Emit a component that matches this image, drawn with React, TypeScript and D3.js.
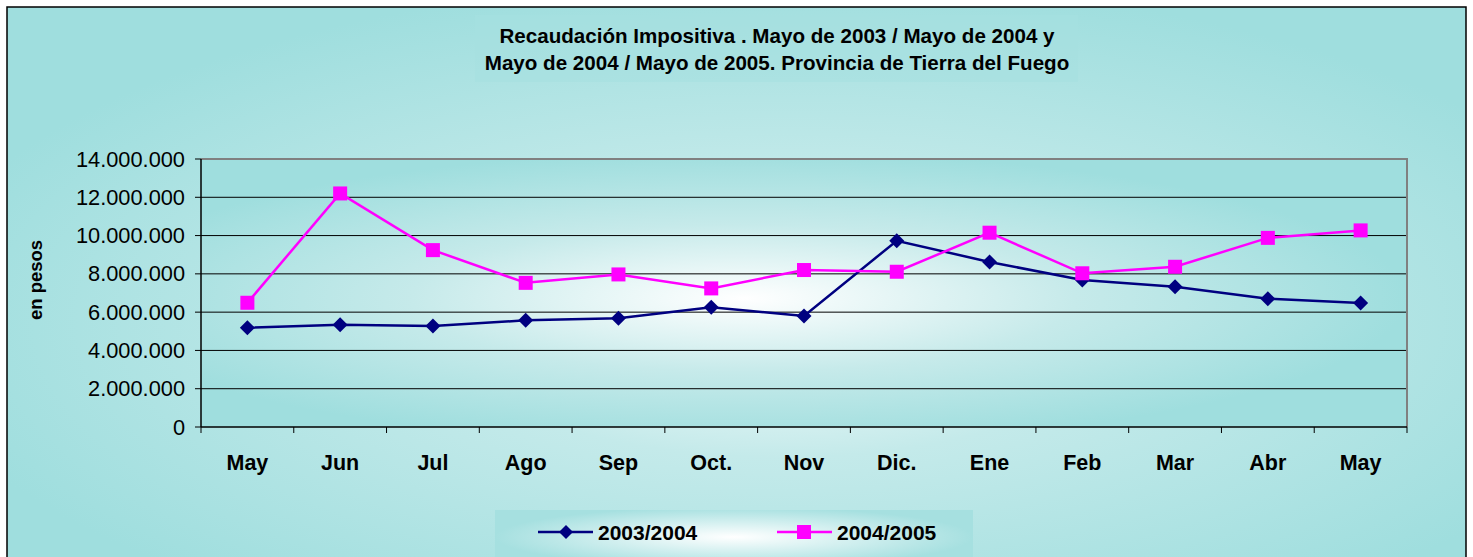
import React from "react";
import * as d3 from "d3";

const categories = ["May", "Jun", "Jul", "Ago", "Sep", "Oct.", "Nov", "Dic.", "Ene", "Feb", "Mar", "Abr", "May"];
const series2003 = [5180000, 5340000, 5270000, 5570000, 5680000, 6250000, 5800000, 9730000, 8620000, 7680000, 7330000, 6700000, 6480000];
const series2004 = [6490000, 12200000, 9240000, 7530000, 7970000, 7240000, 8200000, 8110000, 10150000, 8030000, 8370000, 9880000, 10270000];
const yTicks = [0, 2000000, 4000000, 6000000, 8000000, 10000000, 12000000, 14000000];
const seriesNames = ["2003/2004", "2004/2005"];
const titleLines = ["Recaudación Impositiva . Mayo de 2003 / Mayo de 2004 y", "Mayo de 2004 / Mayo de 2005. Provincia de Tierra del Fuego"];

const W = 1473, H = 557;
const L = 201, R = 1407, T = 159, B = 427;
const FONT = "'Liberation Sans', Arial, sans-serif";

export default function App() {
  const x = d3.scaleBand<number>().domain(categories.map((_, i) => i)).range([L, R]);
  const y = d3.scaleLinear().domain([0, 14000000]).range([B, T]);
  const fmt = (v: number) => d3.format(",")(v).replace(/,/g, ".");
  const cx = (i: number) => (x(i) as number) + x.bandwidth() / 2;
  const line = d3.line<number>().x((_, i) => cx(i)).y((d) => y(d));
  const diamond = (px: number, py: number, r: number) => `M${px},${py - r}L${px + r},${py}L${px},${py + r}L${px - r},${py}Z`;

  return (
    <svg width={W} height={H} style={{ position: "absolute", left: 0, top: 0 }}>
      <defs>
        <radialGradient id="bgGrad" cx="0.53" cy="0.55" r="0.6">
          <stop offset="0" stopColor="#ffffff" />
          <stop offset="0.4" stopColor="#c4eaea" />
          <stop offset="1" stopColor="#9fdede" />
        </radialGradient>
        <radialGradient id="plotGrad" cx="0.45" cy="0.52" r="0.55">
          <stop offset="0" stopColor="#ffffff" />
          <stop offset="0.5" stopColor="#c6eaea" />
          <stop offset="1" stopColor="#9fdede" />
        </radialGradient>
        <radialGradient id="legGrad" cx="0.5" cy="0.45" r="0.5">
          <stop offset="0" stopColor="#ffffff" />
          <stop offset="1" stopColor="#a6e0e0" />
        </radialGradient>
      </defs>
      <rect x={7} y={7} width={1459} height={570} fill="url(#bgGrad)" stroke="#000" strokeWidth={1.5} />
      <rect x={475} y={15} width={603} height={67} fill="#a6e0e0" opacity={0.55} />
      {titleLines.map((t, i) => (
        <text key={i} x={777} y={42.5 + i * 27.5} textAnchor="middle" fontFamily={FONT} fontWeight="bold" fontSize={20.6} fill="#000">{t}</text>
      ))}
      <rect x={L} y={T} width={R - L} height={B - T} fill="url(#plotGrad)" />
      {yTicks.filter((v) => v > 0 && v < 14000000).map((v) => (
        <line key={v} x1={L} x2={R} y1={y(v)} y2={y(v)} stroke="#000" strokeWidth={1} />
      ))}
      <path d={`M${L},${T}H${R}V${B}`} fill="none" stroke="#808080" strokeWidth={2} />
      <line x1={L} x2={L} y1={T} y2={B} stroke="#000" strokeWidth={1.5} />
      <line x1={L} x2={R} y1={B} y2={B} stroke="#000" strokeWidth={1.5} />
      {yTicks.map((v) => (
        <g key={v}>
          <line x1={L - 6} x2={L} y1={y(v)} y2={y(v)} stroke="#000" strokeWidth={1} />
          <text x={185} y={y(v) + 7.5} textAnchor="end" fontFamily={FONT} fontSize={21.8} fill="#000">{fmt(v)}</text>
        </g>
      ))}
      {categories.map((_, i) => (
        <line key={"t" + i} x1={x(i) as number} x2={x(i) as number} y1={B} y2={B + 6} stroke="#000" strokeWidth={1} />
      ))}
      <line x1={R} x2={R} y1={B} y2={B + 6} stroke="#000" strokeWidth={1} />
      {categories.map((c, i) => (
        <text key={"c" + i} x={cx(i)} y={470} textAnchor="middle" fontFamily={FONT} fontWeight="bold" fontSize={21.5} fill="#000">{c}</text>
      ))}
      <text transform="translate(42,280) rotate(-90)" textAnchor="middle" fontFamily={FONT} fontWeight="bold" fontSize={18.5} fill="#000">en pesos</text>

      <path d={line(series2003) as string} fill="none" stroke="#000080" strokeWidth={2.5} />
      {series2003.map((v, i) => (
        <path key={"d" + i} d={diamond(cx(i), y(v), 7.5)} fill="#000080" />
      ))}
      <path d={line(series2004) as string} fill="none" stroke="#ff00ff" strokeWidth={2.5} />
      {series2004.map((v, i) => (
        <rect key={"s" + i} x={cx(i) - 7} y={y(v) - 7} width={14} height={14} fill="#ff00ff" />
      ))}

      <rect x={495} y={510} width={478} height={60} fill="url(#legGrad)" />
      <line x1={538} x2={593} y1={532} y2={532} stroke="#000080" strokeWidth={2.5} />
      <path d={diamond(566, 532, 7)} fill="#000080" />
      <text x={598} y={540} fontFamily={FONT} fontWeight="bold" fontSize={21} fill="#000">{seriesNames[0]}</text>
      <line x1={777} x2={832} y1={532} y2={532} stroke="#ff00ff" strokeWidth={2.5} />
      <rect x={797} y={525} width={14} height={14} fill="#ff00ff" />
      <text x={837} y={540} fontFamily={FONT} fontWeight="bold" fontSize={21} fill="#000">{seriesNames[1]}</text>
    </svg>
  );
}
